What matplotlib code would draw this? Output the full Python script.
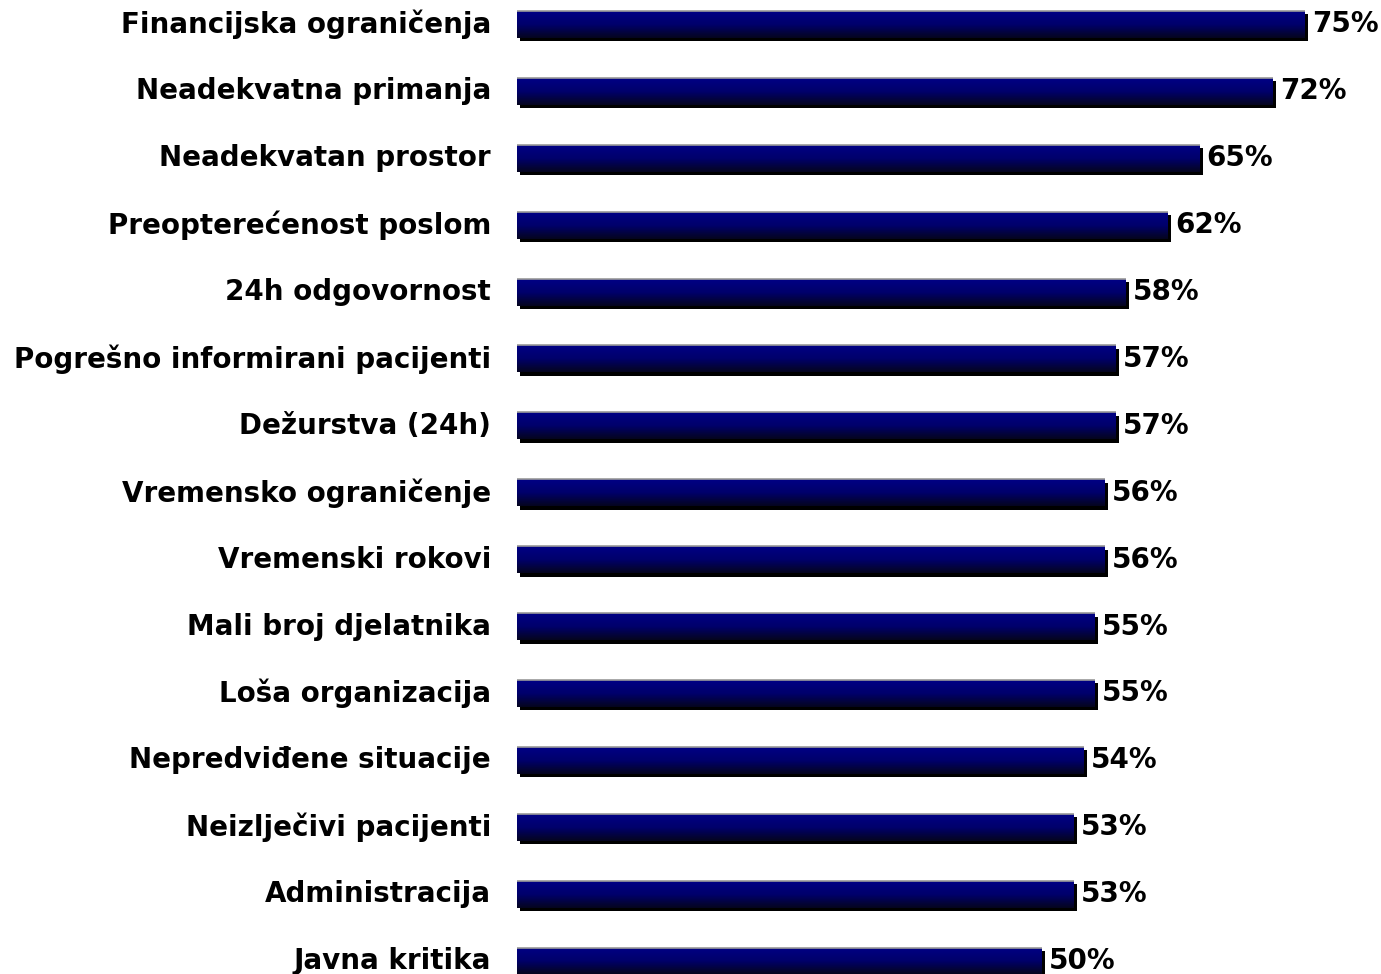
import matplotlib
matplotlib.use("Agg")
import matplotlib.pyplot as plt
import numpy as np
from matplotlib.patches import Rectangle
from matplotlib.colors import LinearSegmentedColormap

categories = ["Financijska ograničenja", "Neadekvatna primanja", "Neadekvatan prostor",
              "Preopterećenost poslom", "24h odgovornost", "Pogrešno informirani pacijenti",
              "Dežurstva (24h)", "Vremensko ograničenje", "Vremenski rokovi",
              "Mali broj djelatnika", "Loša organizacija", "Nepredviđene situacije",
              "Neizlječivi pacijenti", "Administracija", "Javna kritika"]
values = [75, 72, 65, 62, 58, 57, 57, 56, 56, 55, 55, 54, 53, 53, 50]

W, H = 1381, 974
fig = plt.figure(figsize=(W/100, H/100), dpi=100)
ax_left = 517
pxper = 10.5
ax = fig.add_axes([ax_left/W, 0, 1 - ax_left/W, 1])
ax.set_xlim(0, (W - ax_left)/pxper)
spacing = 66.9
top0 = 24.5
ax.set_ylim(14 + (H - 961)/spacing, -top0/spacing)
ax.axis("off")

bh = 27/spacing
dx = 3/pxper
dy = 3.5/spacing
grad = np.linspace(0, 1, 64).reshape(-1, 1)
cmap = LinearSegmentedColormap.from_list("g", [(0, 0, 0.52), (0, 0, 0.42), (0.02, 0.02, 0.12)])

for i, (c, v) in enumerate(zip(categories, values)):
    y0 = i - bh/2
    ax.add_patch(Rectangle((dx, y0 + dy), v, bh, facecolor="black", edgecolor="none", zorder=1))
    im = ax.imshow(grad, cmap=cmap, aspect="auto", extent=(0, v, y0 + bh, y0), zorder=2,
                   interpolation="bilinear")
    r = Rectangle((0, y0), v, bh, facecolor="none", edgecolor="none", transform=ax.transData)
    ax.add_patch(r)
    im.set_clip_path(r)
    ax.plot([0, v], [y0, y0], color="#9a9a9a", lw=1.2, zorder=3, solid_capstyle="butt")
    ax.text(v + dx + 0.4, i, f"{v}%", ha="left", va="center", fontsize=20,
            fontweight="bold", family="DejaVu Sans", zorder=4)
    fig.text(491/W, 1 - (top0 + i*spacing)/H, c, ha="right", va="center", fontsize=20,
             fontweight="bold", family="DejaVu Sans")

fig.savefig("out.png", dpi=100)
